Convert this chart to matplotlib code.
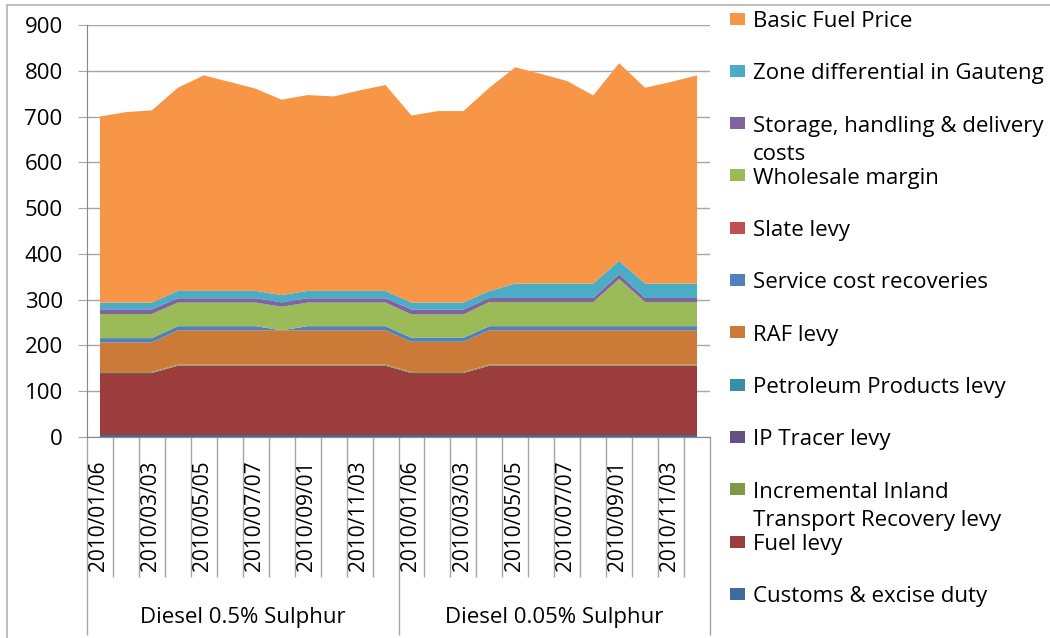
import numpy as np
import matplotlib
matplotlib.use('Agg')
import matplotlib.pyplot as plt
import matplotlib.transforms as mtransforms
from matplotlib.patches import Rectangle
from matplotlib.lines import Line2D
from matplotlib import rcParams

rcParams['font.family'] = ['Open Sans', 'DejaVu Sans']

# categories
dates = ['2010/01/06', '2010/02/03', '2010/03/03', '2010/04/07', '2010/05/05', '2010/06/02',
         '2010/07/07', '2010/08/04', '2010/09/01', '2010/10/06', '2010/11/03', '2010/12/01']
groups = ['Diesel 0.5% Sulphur', 'Diesel 0.05% Sulphur']

# series, bottom of the stack first (c/l)
customs = [4, 4, 4, 4, 4, 4, 4, 4, 4, 4, 4, 4,
           4, 4, 4, 4, 4, 4, 4, 4, 4, 4, 4, 4]
fuel_levy = [135.7, 135.7, 135.7, 151.7, 151.7, 151.7, 151.7, 151.7, 151.7, 151.7, 151.7, 151.7,
             135.7, 135.7, 135.7, 151.7, 151.7, 151.7, 151.7, 151.7, 151.7, 151.7, 151.7, 151.7]
iitr = [2, 2, 2, 2, 2, 2, 2, 2, 2, 2, 2, 2,
        2, 2, 2, 2, 2, 2, 2, 2, 2, 2, 2, 2]
ip_tracer = [0.1, 0.1, 0.1, 0.1, 0.1, 0.1, 0.1, 0.1, 0.1, 0.1, 0.1, 0.1,
             0.1, 0.1, 0.1, 0.1, 0.1, 0.1, 0.1, 0.1, 0.1, 0.1, 0.1, 0.1]
ppl = [0.3, 0.3, 0.3, 0.3, 0.3, 0.3, 0.3, 0.3, 0.3, 0.3, 0.3, 0.3,
       0.3, 0.3, 0.3, 0.3, 0.3, 0.3, 0.3, 0.3, 0.3, 0.3, 0.3, 0.3]
raf = [64.5, 64.5, 64.5, 75, 75, 75, 75, 75, 75, 75, 75, 75,
       66, 66, 66, 75, 75, 75, 75, 75, 75, 75, 75, 75]
service = [9.4, 9.4, 9.4, 9, 9, 9, 9, 0, 9, 9, 9, 9,
           8.5, 8.5, 8.5, 9, 9, 9, 9, 9, 9, 9, 9, 9]
slate = [0, 0, 0, 0, 0, 0, 0, 0, 0, 0, 0, 0,
         0, 0, 0, 0, 0, 0, 0, 0, 0, 0, 0, 0]
wholesale = [52.7, 52.7, 52.7, 51.5, 51.5, 51.5, 51.5, 51.5, 51.5, 51.5, 51.5, 51.5,
             51, 51, 51, 52.8, 52.8, 52.8, 52.8, 52.8, 102.7, 52.8, 52.8, 52.8]
storage = [10.3, 10.3, 10.3, 9.5, 9.5, 9.5, 9.5, 9.5, 9.5, 9.5, 9.5, 9.5,
           11, 11, 11, 8.8, 8.8, 8.8, 8.8, 8.8, 11, 8.8, 8.8, 8.8]
zone = [14.7, 14.7, 14.7, 16, 16, 16, 16, 16, 16, 16, 16, 16,
        15, 15, 15, 15.3, 31.5, 31.5, 31.5, 31.5, 29.1, 31.5, 31.5, 31.5]
bfp = [406.3, 416.0, 419.9, 443.9, 470.9, 456.5, 441.8, 426.6, 427.9, 424.9, 437.9, 449.8,
       408.6, 418.3, 418.4, 444.0, 472.5, 457.8, 442.4, 410.8, 431.7, 427.8, 440.4, 454.8]

names = ['Customs & excise duty', 'Fuel levy', 'Incremental Inland\nTransport Recovery levy',
         'IP Tracer levy', 'Petroleum Products levy', 'RAF levy', 'Service cost recoveries',
         'Slate levy', 'Wholesale margin', 'Storage, handling & delivery\ncosts',
         'Zone differential in Gauteng', 'Basic Fuel Price']
colors = ['#3E6B9E', '#9B3D3C', '#7E9A47', '#664F84', '#3A8EA5', '#CC7A37', '#4F81BD',
          '#C0504D', '#9BBB59', '#8064A2', '#4BACC6', '#F79646']
series = [customs, fuel_levy, iitr, ip_tracer, ppl, raf, service, slate, wholesale, storage, zone, bfp]

W, H = 1050, 638
fig = plt.figure(figsize=(W / 100, H / 100), dpi=100)
ax = fig.add_axes([87 / W, 1 - 437 / H, (710 - 87) / W, (437 - 25) / H])

x = np.arange(len(dates) * len(groups))
ax.stackplot(x, *series, colors=colors, linewidth=0)

ax.set_xlim(-0.5, len(x) - 0.5)
ax.set_ylim(0, 900)
ax.set_yticks(np.arange(0, 901, 100))
ax.set_axisbelow(True)
ax.yaxis.grid(True, color='#A6A6A6', linewidth=1)
for s in ['top', 'right']:
    ax.spines[s].set_visible(False)
for s in ['left', 'bottom']:
    ax.spines[s].set_color('#868686')
ax.tick_params(axis='y', length=6.5, color='#A6A6A6', pad=11, labelsize=16)

# category axis: date ticks and group separators
edges = np.arange(-0.5, len(x), 1.0)
grp_edges = [-0.5, len(dates) - 0.5, len(x) - 0.5]
ax.set_xticks([e for e in edges if e not in grp_edges])
ax.set_xticks(grp_edges, minor=True)
ax.tick_params(axis='x', which='major', length=100.8, color='#A6A6A6', width=1, labelbottom=False)
ax.tick_params(axis='x', which='minor', length=142.6, color='#A6A6A6', width=1, labelbottom=False)

trans = mtransforms.blended_transform_factory(ax.transData, ax.transAxes)
for i in range(0, len(x), 2):
    ax.text(i - 0.05, -0.1917, dates[i % len(dates)], rotation=90, ha='center', va='center',
            fontsize=15, transform=trans)
for g, name in enumerate(groups):
    ax.text(g * len(dates) + (len(dates) - 1) / 2, -0.437, name, ha='center', va='center',
            fontsize=16, transform=trans)

# legend, top entry first
for i, k in enumerate(range(len(names) - 1, -1, -1)):
    yc = 18.5 + i * 52.3
    fig.patches.append(Rectangle((730 / W, 1 - (yc + 6) / H), 15 / W, 12 / H,
                                 facecolor=colors[k], edgecolor='none', transform=fig.transFigure))
    for j, line in enumerate(names[k].split('\n')):
        fig.text(753 / W, 1 - (yc + 8.5 + j * 28.4) / H, line, fontsize=16, va='baseline', ha='left')

# chart border
fig.add_artist(Line2D([7 / W, 7 / W], [0, 1 - 5 / H], color='#BFBFBF', lw=1.5))
fig.add_artist(Line2D([7 / W, 1], [1 - 5 / H, 1 - 5 / H], color='#BFBFBF', lw=1.5))

fig.savefig('out.png', dpi=100)
